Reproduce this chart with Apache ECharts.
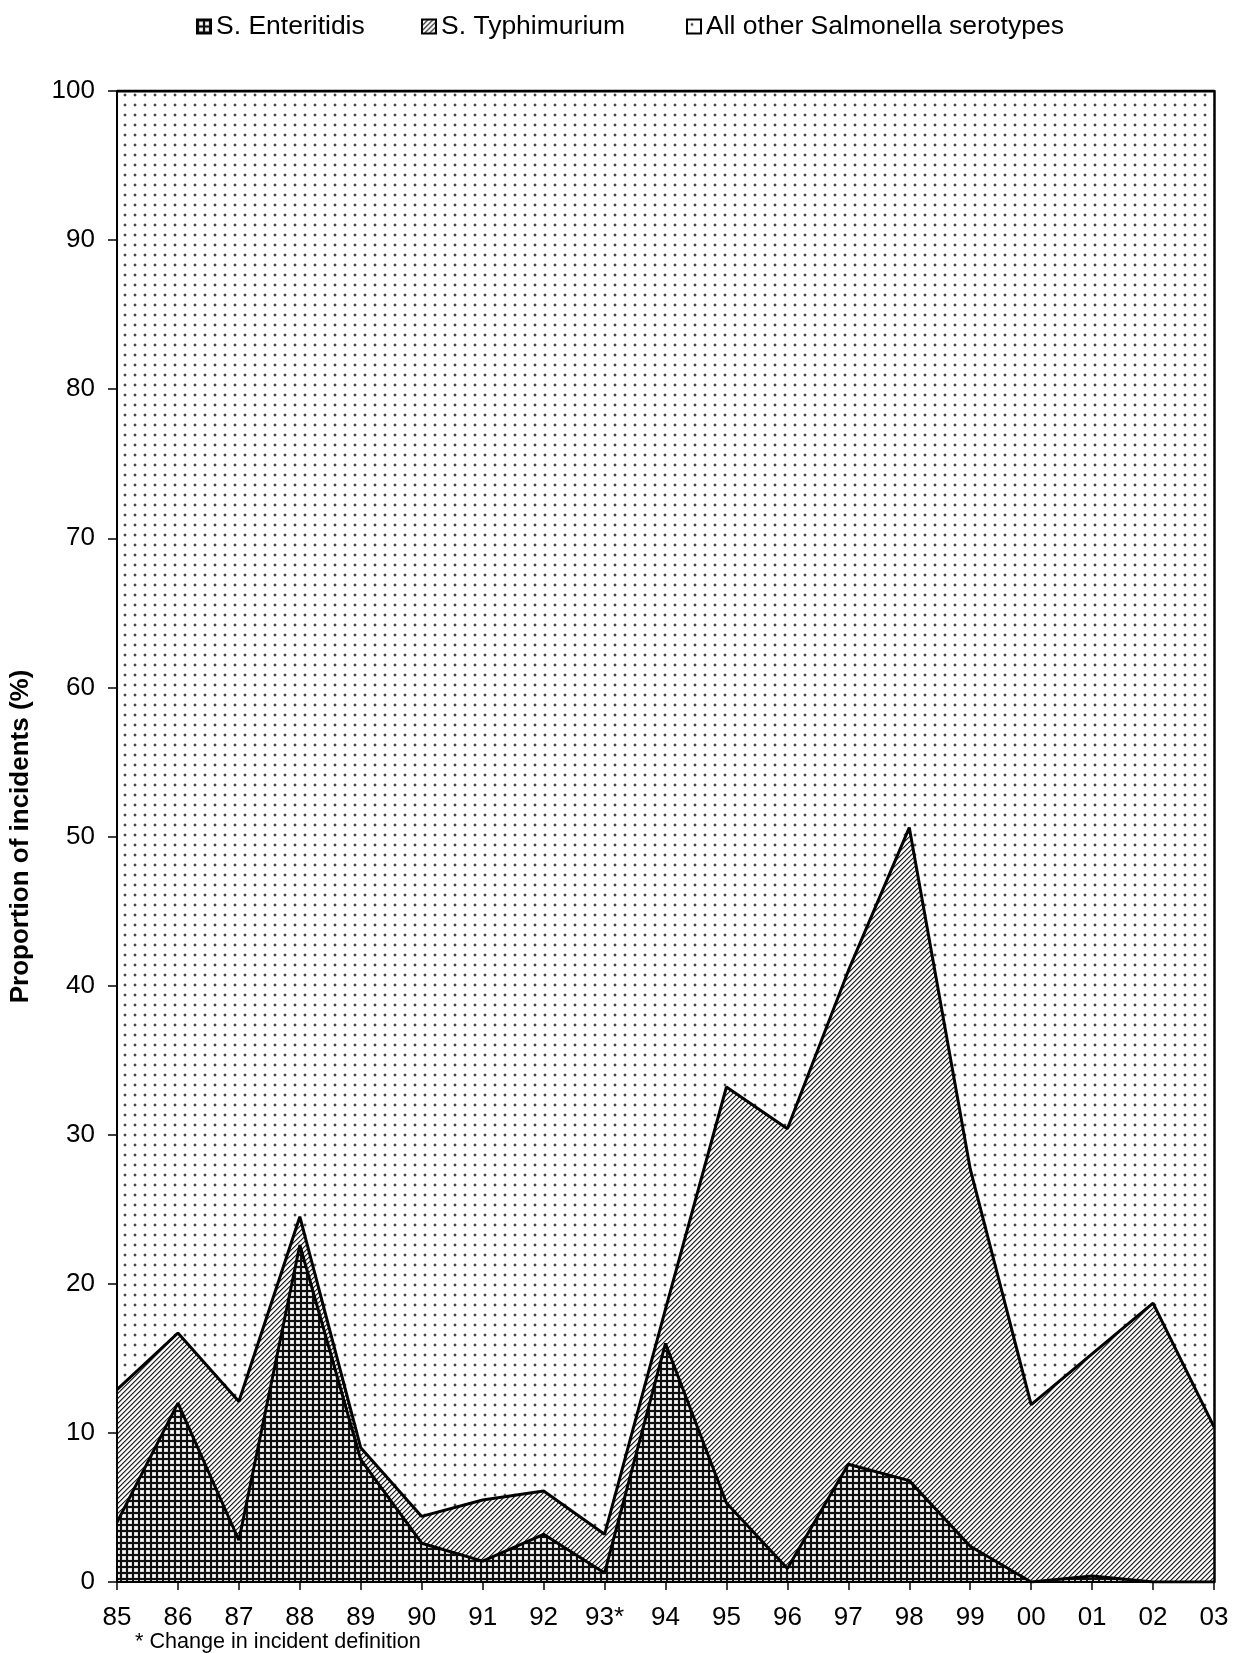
<!DOCTYPE html>
<html>
<head>
<meta charset="utf-8">
<script src="https://cdn.jsdelivr.net/npm/echarts@6/dist/echarts.min.js"></script>
<style>
html,body{margin:0;padding:0;background:#fff;}
#chart{width:1240px;height:1653px;}
</style>
</head>
<body>
<div id="chart"></div>
<script>
// ---- data ----
const years = ['85','86','87','88','89','90','91','92','93*','94','95','96','97','98','99','00','01','02','03'];
const enteritidis = [4.0,12.0,2.8,22.6,8.2,2.6,1.4,3.2,0.6,16.0,5.3,0.9,7.9,6.8,2.4,0.0,0.4,0.0,0.0];
const typhimurium = [8.9,4.7,9.3,1.9,0.8,1.8,4.1,2.9,2.6,2.3,27.9,29.5,33.1,43.8,25.3,11.9,14.9,18.7,10.4];
const otherSerotypes = [87.1,83.3,87.9,75.5,91.0,95.6,94.5,93.9,96.8,81.7,66.8,69.6,59.0,49.4,72.3,88.1,84.7,81.3,89.6];
const seriesNames = ['S. Enteritidis','S. Typhimurium','All other Salmonella serotypes'];
const yMin = 0, yMax = 100, yStep = 10;
const yAxisTitle = 'Proportion of incidents (%)';
const footnote = '* Change in incident definition';

// ---- patterns ----
function makeTile(w, h, fn) {
  const c = document.createElement('canvas');
  c.width = w; c.height = h;
  const ctx = c.getContext('2d');
  const img = ctx.createImageData(w, h);
  for (let y = 0; y < h; y++) {
    for (let x = 0; x < w; x++) {
      const v = fn(x, y);
      const i = (y * w + x) * 4;
      img.data[i] = v; img.data[i+1] = v; img.data[i+2] = v; img.data[i+3] = 255;
    }
  }
  ctx.putImageData(img, 0, 0);
  return c;
}
const dotTile = makeTile(10, 10, (x, y) => {
  const inX = (x === 4 || x === 5), inY = (y === 4 || y === 5);
  if (inX && inY) return 70;
  const nX = (x >= 3 && x <= 6), nY = (y >= 3 && y <= 6);
  if ((inX && nY) || (inY && nX)) return 205;
  return 255;
});
const crossTile = makeTile(6, 6, (x, y) => {
  if (x < 2 || y < 2) return 15;
  if (x === 2 || y === 2 || x === 5 || y === 5) return 215;
  return 255;
});
const diagTile = makeTile(5, 5, (x, y) => [35, 140, 245, 255, 220][(x + y) % 5]);

const crossPattern = { image: crossTile, repeat: 'repeat' };
const diagPattern = { image: diagTile, repeat: 'repeat' };
const dotPattern = { image: dotTile, repeat: 'repeat' };
const patterns = [crossPattern, diagPattern, dotPattern];
const values = [enteritidis, typhimurium, otherSerotypes];
const legendLefts = [191, 416, 681];

const FONT = '"Liberation Sans", Arial, Helvetica, sans-serif';

const chart = echarts.init(document.getElementById('chart'), null, { renderer: 'canvas' });

const option = {
  animation: false,
  backgroundColor: '#fff',
  textStyle: { fontFamily: FONT, color: '#000' },
  legend: seriesNames.map((n, i) => ({
    top: 8,
    left: legendLefts[i],
    itemWidth: 14,
    itemHeight: 14,
    selectedMode: false,
    textStyle: { fontSize: 26.5, color: '#000', fontFamily: FONT },
    data: [{
      name: n,
      icon: 'rect',
      itemStyle: { color: patterns[i], borderColor: '#000', borderWidth: 2 }
    }]
  })),
  grid: { left: 116, right: 26, top: 91, bottom: 71 },
  xAxis: {
    type: 'category',
    data: years,
    boundaryGap: false,
    z: 10,
    axisLine: { show: true, lineStyle: { color: '#000', width: 2 } },
    axisTick: { show: true, length: 8, lineStyle: { color: '#000', width: 1.5 } },
    axisLabel: { color: '#000', fontSize: 26, margin: 23, interval: 0, fontFamily: FONT },
    splitLine: { show: false }
  },
  yAxis: [{
    type: 'value',
    min: yMin, max: yMax, interval: yStep,
    z: 10,
    name: yAxisTitle,
    nameLocation: 'middle',
    nameGap: 83,
    nameTextStyle: { fontSize: 26, fontWeight: 'bold', color: '#000', fontFamily: FONT },
    axisLine: { show: true, lineStyle: { color: '#000', width: 2 } },
    axisTick: { show: true, length: 9, lineStyle: { color: '#000', width: 1.5 } },
    axisLabel: { color: '#000', fontSize: 26, margin: 22, fontFamily: FONT },
    splitLine: { show: false }
  }, {
    type: 'value',
    position: 'right',
    min: yMin, max: yMax, interval: yStep,
    z: 10,
    axisLine: { show: true, lineStyle: { color: '#000', width: 2.5 } },
    axisTick: { show: false },
    axisLabel: { show: false },
    splitLine: { show: false }
  }],
  series: seriesNames.map((n, i) => ({
    name: n,
    type: 'line',
    stack: 'all',
    data: values[i],
    symbol: 'none',
    z: 4 - i,
    lineStyle: { color: '#000', width: 3 },
    itemStyle: { color: '#000' },
    areaStyle: { color: patterns[i], opacity: 1 },
    emphasis: { disabled: true }
  })),
  graphic: [{
    type: 'text',
    left: 135,
    top: 1631,
    style: { text: footnote, font: '21.6px ' + FONT, fill: '#000' }
  }]
};
chart.setOption(option);
</script>
</body>
</html>
